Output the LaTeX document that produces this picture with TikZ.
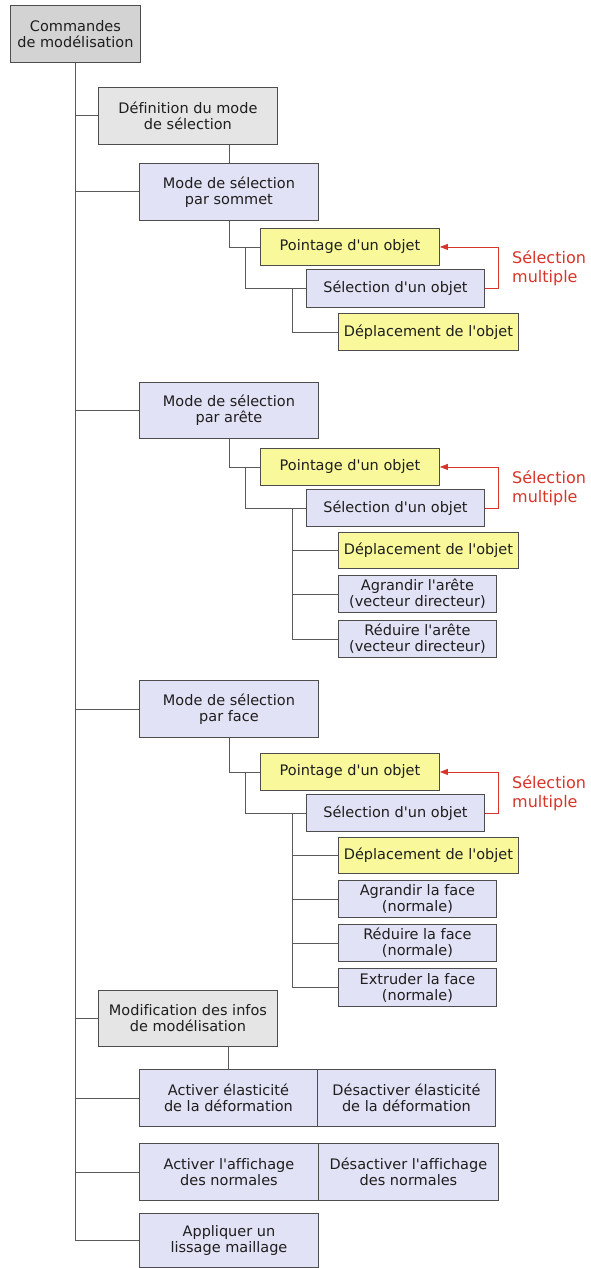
\documentclass[tikz,border=0pt]{standalone}
\usepackage{fontspec}
\setmainfont{DejaVu Sans}[Ligatures=NoCommon]
\usetikzlibrary{arrows.meta,calc}
\definecolor{bordc}{HTML}{4D4D4D}
\definecolor{txtc}{HTML}{1E1E1E}
\definecolor{connc}{HTML}{5A5A5A}
\definecolor{rootc}{HTML}{D3D3D3}
\definecolor{grayc}{HTML}{E5E5E5}
\definecolor{lavc}{HTML}{E2E2F6}
\definecolor{yelc}{HTML}{F9F99C}
\definecolor{redc}{HTML}{D8352A}
\newcommand{\aq}{\textquotesingle}
\newcommand{\bxat}[6]{\node[#1, minimum width={#4-#2}, minimum height={#5-#3}] (#6) at (#2,#3)}
\begin{document}
\begin{tikzpicture}[x=1pt,y=-1pt,
  bx/.style={draw=bordc, line width=0.9pt, anchor=north west, inner sep=0pt, align=center, text=txtc, font=\fontsize{14.5}{16}\selectfont},
  rootbox/.style={bx, fill=rootc},
  graybox/.style={bx, fill=grayc},
  lavbox/.style={bx, fill=lavc},
  yelbox/.style={bx, fill=yelc},
  conn/.style={draw=connc, line width=0.9pt},
  redl/.style={draw=redc, line width=0.9pt, -{Triangle[length=8pt,width=6pt]}},
  lab/.style={text=redc, align=left, anchor=west, inner sep=0pt, font=\fontsize{16}{19}\selectfont}]
\useasboundingbox (0,0) rectangle (591,1268);
\fill[white] (0,0) rectangle (591,1268);

\bxat{rootbox}{10}{5}{140}{62}{root} {Commandes\\de modélisation};
\bxat{graybox}{98}{87}{277}{144}{def} {Définition du mode\\de sélection};
\bxat{lavbox}{139}{163}{318}{220}{msom} {Mode de sélection\\par sommet};
\bxat{yelbox}{260}{228}{439}{265}{p1} {Pointage d\aq un objet};
\bxat{lavbox}{306}{269}{484}{307}{s1} {Sélection d\aq un objet};
\bxat{yelbox}{338}{313}{518}{350}{d1} {Déplacement de l\aq objet};

\bxat{lavbox}{139}{382}{318}{438}{mare} {Mode de sélection\\par arête};
\bxat{yelbox}{260}{448}{439}{485}{p2} {Pointage d\aq un objet};
\bxat{lavbox}{306}{489}{484}{526}{s2} {Sélection d\aq un objet};
\bxat{yelbox}{338}{532}{518}{568}{d2} {Déplacement de l\aq objet};
\bxat{lavbox}{338}{575}{496}{612}{a2} {Agrandir l\aq arête\\(vecteur directeur)};
\bxat{lavbox}{338}{620}{496}{657}{r2} {Réduire l\aq arête\\(vecteur directeur)};

\bxat{lavbox}{139}{680}{318}{737}{mfac} {Mode de sélection\\par face};
\bxat{yelbox}{260}{753}{439}{790}{p3} {Pointage d\aq un objet};
\bxat{lavbox}{306}{794}{484}{831}{s3} {Sélection d\aq un objet};
\bxat{yelbox}{338}{837}{518}{873}{d3} {Déplacement de l\aq objet};
\bxat{lavbox}{338}{880}{496}{917}{a3} {Agrandir la face\\(normale)};
\bxat{lavbox}{338}{924}{496}{961}{r3} {Réduire la face\\(normale)};
\bxat{lavbox}{338}{968}{496}{1006}{e3} {Extruder la face\\(normale)};

\bxat{graybox}{98}{990}{277}{1046}{mod} {Modification des infos\\de modélisation};
\bxat{lavbox}{139}{1069}{317}{1126}{ael} {Activer élasticité\\de la déformation};
\bxat{lavbox}{317}{1069}{495}{1126}{del} {Désactiver élasticité\\de la déformation};
\bxat{lavbox}{139}{1143}{318}{1200}{aaf} {Activer l\aq affichage\\des normales};
\bxat{lavbox}{318}{1143}{498}{1200}{daf} {Désactiver l\aq affichage\\des normales};
\bxat{lavbox}{139}{1213}{318}{1267}{app} {Appliquer un\\lissage maillage};

% trunk
\draw[conn] (root.south) -- (root.south |- app.west) -- (app.west);
\foreach \n in {def,msom,mare,mfac,mod,ael,aaf}
  \draw[conn] (root.south |- \n.west) -- (\n.west);
\draw[conn] (msom.north |- def.south) -- (msom.north);
\draw[conn] (ael.north |- mod.south) -- (ael.north);

% sommet
\draw[conn] (msom.south) |- (p1.west);
\draw[conn] ([xshift=-15pt]p1.west) |- (s1.west);
\draw[conn] ([xshift=-14pt]s1.west) |- (d1.west);

% arete
\draw[conn] (mare.south) |- (p2.west);
\draw[conn] ([xshift=-15pt]p2.west) |- (s2.west);
\coordinate (v2) at ([xshift=-14pt]s2.west);
\draw[conn] (v2) |- (d2.west) (v2) |- (a2.west) (v2) |- (r2.west);

% face
\draw[conn] (mfac.south) |- (p3.west);
\draw[conn] ([xshift=-15pt]p3.west) |- (s3.west);
\coordinate (v3) at ([xshift=-14pt]s3.west);
\draw[conn] (v3) |- (d3.west) (v3) |- (a3.west) (v3) |- (r3.west) (v3) |- (e3.west);

% selection multiple loops
\draw[redl] (s1.east) -- ++(14,0) |- (p1.east);
\draw[redl] (s2.east) -- ++(14,0) |- (p2.east);
\draw[redl] (s3.east) -- ++(14,0) |- (p3.east);
\node[lab] (ml1) at (512,268) {Sélection\\multiple};
\node[lab] (ml2) at (512,488) {Sélection\\multiple};
\node[lab] (ml3) at (512,793) {Sélection\\multiple};
\end{tikzpicture}
\end{document}
